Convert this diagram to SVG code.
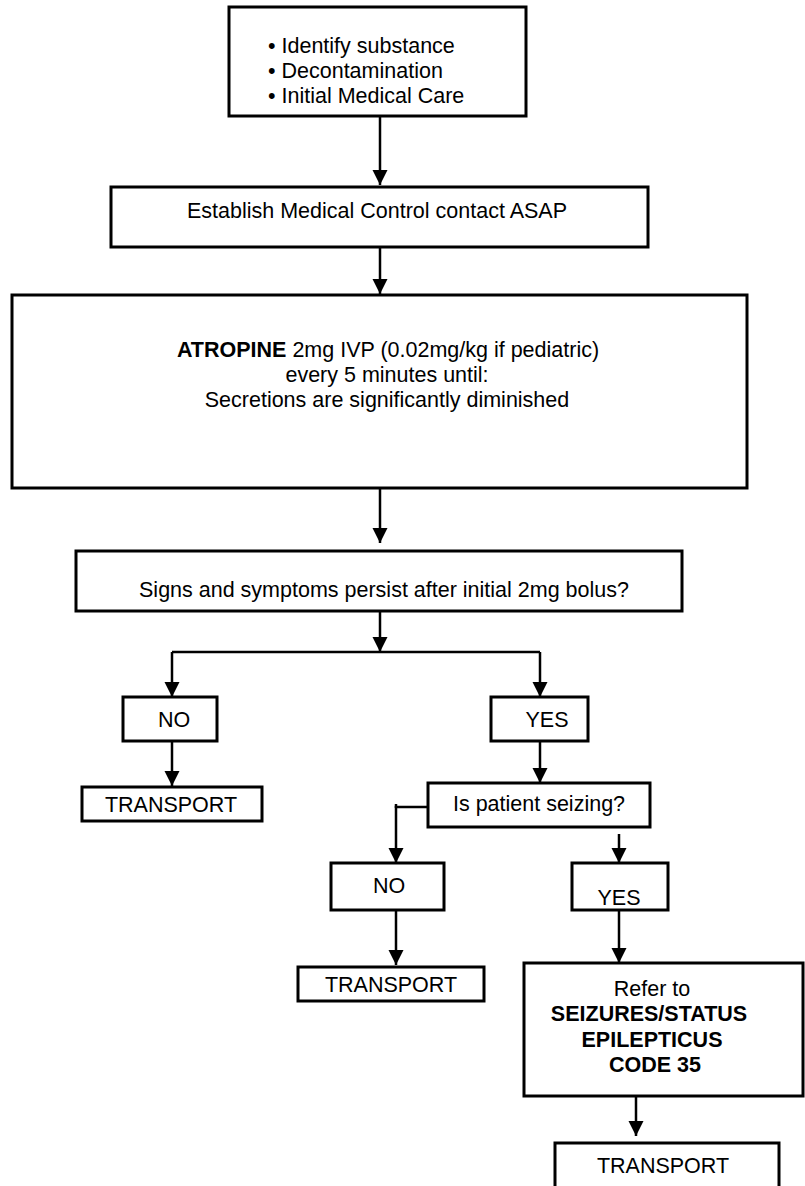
<svg xmlns="http://www.w3.org/2000/svg" width="805" height="1186" viewBox="0 0 805 1186">
  <defs>
    <marker id="arrow" markerUnits="userSpaceOnUse" markerWidth="16" markerHeight="16" refX="15" refY="7.5" orient="auto">
      <path d="M0,0 L15,7.5 L0,15 z" fill="#000"/>
    </marker>
    <style>
      .box { fill: #fff; stroke: #000; stroke-width: 3; }
      .t { font-family: "Liberation Sans", Arial, sans-serif; font-size: 21.5px; fill: #000; }
      .c { text-anchor: middle; }
      .b { font-weight: bold; }
      .link { fill: none; stroke: #000; stroke-width: 2.5; }
      .arr { marker-end: url(#arrow); }
    </style>
  </defs>
  <rect width="805" height="1186" fill="#fff"/>

  <!-- connectors -->
  <g id="connectors">
    <path class="link arr" d="M380,116 V185"/>
    <path class="link arr" d="M380,247 V294"/>
    <path class="link arr" d="M380,488 V543"/>
    <path class="link arr" d="M380,609 V652"/>
    <path class="link" d="M172,652 H540"/>
    <path class="link arr" d="M172,652 V697"/>
    <path class="link arr" d="M540,652 V697"/>
    <path class="link arr" d="M172,741 V786"/>
    <path class="link arr" d="M540,741 V783"/>
    <path class="link arr" d="M428,807 H396 V863"/>
    <path class="link" d="M396,804 V808"/>
    <path class="link arr" d="M619,834 V863"/>
    <path class="link arr" d="M396,910 V965"/>
    <path class="link arr" d="M619,910 V963"/>
    <path class="link arr" d="M636,1096 V1136"/>
  </g>

  <g id="n-initial">
    <rect class="box" x="229" y="7" width="297" height="109"/>
    <text class="t" x="268" y="53">• Identify substance</text>
    <text class="t" x="268" y="78">• Decontamination</text>
    <text class="t" x="268" y="103">• Initial Medical Care</text>
  </g>

  <g id="n-medical-control">
    <rect class="box" x="111" y="187" width="537" height="60"/>
    <text class="t c" x="377" y="218">Establish Medical Control contact ASAP</text>
  </g>

  <g id="n-atropine">
    <rect class="box" x="12" y="295" width="735" height="193"/>
    <text class="t c" x="388" y="357"><tspan class="b">ATROPINE</tspan> 2mg IVP (0.02mg/kg if pediatric)</text>
    <text class="t c" x="387" y="382">every 5 minutes until:</text>
    <text class="t c" x="387" y="407">Secretions are significantly diminished</text>
  </g>

  <g id="n-persist">
    <rect class="box" x="76" y="551" width="606" height="60"/>
    <text class="t c" x="384" y="597">Signs and symptoms persist after initial 2mg bolus?</text>
  </g>

  <g id="n-no1">
    <rect class="box" x="123" y="697" width="94" height="44"/>
    <text class="t c" x="174" y="727">NO</text>
  </g>

  <g id="n-transport1">
    <rect class="box" x="82" y="787" width="180" height="34"/>
    <text class="t c" x="171" y="812">TRANSPORT</text>
  </g>

  <g id="n-yes1">
    <rect class="box" x="491" y="697" width="97" height="44"/>
    <text class="t c" x="547" y="727">YES</text>
  </g>

  <g id="n-seizing">
    <rect class="box" x="428" y="783" width="222" height="44"/>
    <text class="t c" x="539" y="811">Is patient seizing?</text>
  </g>

  <g id="n-no2">
    <rect class="box" x="331" y="863" width="113" height="47"/>
    <text class="t c" x="389" y="893">NO</text>
  </g>

  <g id="n-transport2">
    <rect class="box" x="298" y="967" width="186" height="34"/>
    <text class="t c" x="391" y="992">TRANSPORT</text>
  </g>

  <g id="n-yes2">
    <rect class="box" x="572" y="863" width="96" height="47"/>
    <text class="t c" x="619" y="905">YES</text>
  </g>

  <g id="n-refer">
    <rect class="box" x="524" y="963" width="279" height="133"/>
    <text class="t c" x="652" y="996">Refer to</text>
    <text class="t c b" x="649" y="1021">SEIZURES/STATUS</text>
    <text class="t c b" x="652" y="1047">EPILEPTICUS</text>
    <text class="t c b" x="655" y="1072">CODE 35</text>
  </g>

  <g id="n-transport3">
    <rect class="box" x="555" y="1143" width="224" height="50"/>
    <text class="t c" x="663" y="1173">TRANSPORT</text>
  </g>
</svg>
